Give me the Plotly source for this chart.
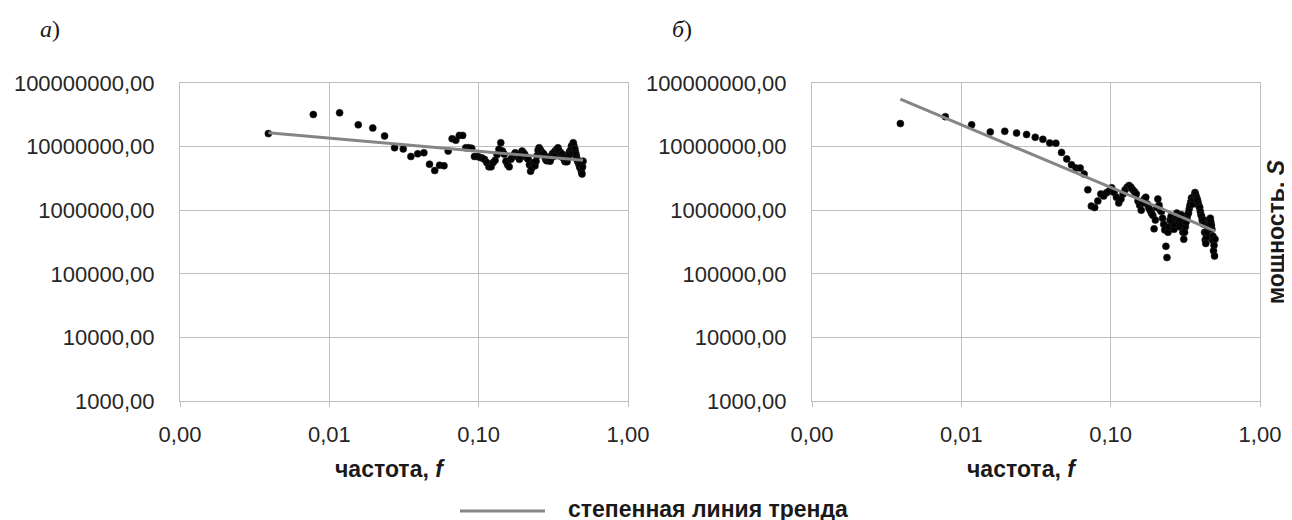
import numpy as np
import plotly.graph_objects as go

# ---- data ----
N = 256
k = list(range(1, 129))
freq = [i / N for i in k]

# panel a) power, units of 1e6
power_a_m = [
    16, 32, 34, 22, 19.6, 14.7, 9.6, 9.2, 7.0, 7.7,
    8.0, 5.3, 4.2, 5.1, 5.0, 8.5, 13.3, 12.6, 15, 15,
    9.6, 9.6, 9.4, 7.0, 7.0, 6.8, 6.6, 6.3, 5.6, 4.8,
    4.8, 5.6, 6.1, 7.5, 9.1, 11.5, 8.5, 7.6, 5.9, 5.2,
    4.8, 6.3, 6.8, 7.4, 8.0, 7.2, 7.6, 6.3, 7.0, 8.5,
    8.0, 7.6, 7.0, 6.6, 6.3, 5.2, 4.1, 4.6, 5.4, 5.6,
    5.0, 5.9, 7.2, 8.8, 9.6, 9.0, 8.5, 8.0, 7.8, 7.6,
    7.0, 6.3, 6.0, 6.4, 6.8, 6.2, 5.9, 6.5, 7.2, 7.8,
    7.0, 7.9, 8.5, 7.4, 8.8, 9.2, 9.6, 8.6, 7.4, 8.2,
    7.6, 6.9, 7.6, 6.9, 6.5, 6.2, 5.8, 6.0, 6.4, 5.8,
    6.6, 7.2, 7.8, 8.4, 7.6, 8.9, 10.2, 9.0, 8.0, 11.5,
    10.5, 9.4, 9.0, 8.0, 7.4, 6.7, 6.2, 5.8, 5.9, 5.4,
    5.0, 4.7, 5.2, 4.4, 4.0, 3.7, 4.8, 5.9,
]
# panel б) power, units of 1e5
power_b_h = [
    230, 296, 220, 170, 174, 163, 155, 140, 130, 114,
    113, 81, 64, 52, 46, 46, 37, 21, 11.6, 11,
    14, 18, 16.7, 18.8, 20, 22.5, 19, 16, 13, 15,
    18, 21, 23, 24.5, 23, 21, 19.5, 18, 14, 12,
    10, 13, 15, 16, 12.5, 11, 10, 9, 8.3, 5.1,
    7, 11, 15, 12, 10, 9.5, 7.5, 6, 4.9, 2.7,
    1.8, 4.5, 5.5, 7, 8, 6.5, 5.5, 5, 6, 7.5,
    9, 8, 6.5, 5.5, 7, 8.5, 6, 4.5, 3.5, 4.5,
    5.5, 6.5, 7.5, 8.5, 9.1, 10.5, 12, 13.5, 15.6, 14,
    12.5, 15, 17, 19, 17.5, 16, 15, 14, 12.5, 11.5,
    11, 9.5, 8.5, 8, 7, 6.2, 7, 6, 4.5, 3.4,
    3.0, 3.8, 4.5, 5.5, 6.5, 7, 6, 6.8, 7.5, 6.5,
    5.8, 5, 3.4, 3.9, 2.3, 2.8, 1.9, 3.5,
]
power_a = [v * 1e6 for v in power_a_m]
power_b = [v * 1e5 for v in power_b_h]

y_tickvals = [1e3, 1e4, 1e5, 1e6, 1e7, 1e8]
y_ticktext = ["1000,00", "10000,00", "100000,00", "1000000,00", "10000000,00", "100000000,00"]
x_tickvals = [0.001, 0.01, 0.1, 1]
x_ticktext = ["0,00", "0,01", "0,10", "1,00"]


def power_trend(x, y):
    b, a = np.polyfit(np.log10(x), np.log10(y), 1)
    xs = np.array(x)
    return list(10 ** a * xs ** b)


W, H = 1292, 520
OFF = 8  # default page body margin
fig = go.Figure()

GRID = "#bfbfbf"
FONT = "Liberation Sans, Arial, sans-serif"

for pw, xa, ya in [(power_a, "x", "y"), (power_b, "x2", "y2")]:
    fig.add_trace(go.Scatter(
        x=freq, y=pw, mode="markers", xaxis=xa, yaxis=ya,
        marker=dict(size=7, color="#000000", line=dict(width=0.6, color="#222222")),
        showlegend=False,
    ))
    fig.add_trace(go.Scatter(
        x=freq, y=power_trend(freq, pw), mode="lines", xaxis=xa, yaxis=ya,
        line=dict(color="#858585", width=3),
        name="степенная линия тренда", showlegend=False,
    ))


def px_x(p):
    return (p - OFF) / W


def px_y(p):
    return 1 - (p - OFF) / H


common_x = dict(type="log", range=[-3, 0], tickvals=x_tickvals, ticktext=x_ticktext,
                showgrid=True, gridcolor=GRID, gridwidth=1, showline=True, mirror=True,
                linecolor=GRID, linewidth=1, ticks="outside", ticklen=5, tickcolor=GRID,
                tickfont=dict(family=FONT, size=22, color="#262626"), zeroline=False,
                ticklabelstandoff=9, automargin=False)
common_y = dict(type="log", range=[3, 8], tickvals=y_tickvals, ticktext=y_ticktext,
                showgrid=True, gridcolor=GRID, gridwidth=1, showline=True, mirror=True,
                linecolor=GRID, linewidth=1, ticks="",
                tickfont=dict(family=FONT, size=22, color="#262626"), zeroline=False,
                ticklabelstandoff=20, automargin=False)

ytop, ybot = 83, 401
fig.update_layout(
    width=W, height=H,
    margin=dict(l=0, r=0, t=0, b=0, pad=0, autoexpand=False),
    paper_bgcolor="white", plot_bgcolor="white",
    showlegend=False,
    xaxis=dict(domain=[px_x(180), px_x(628)], anchor="y", **common_x),
    yaxis=dict(domain=[px_y(ybot), px_y(ytop)], anchor="x", **common_y),
    xaxis2=dict(domain=[px_x(812), px_x(1260)], anchor="y2", **common_x),
    yaxis2=dict(domain=[px_y(ybot), px_y(ytop)], anchor="x2", **common_y),
)

bold = dict(family=FONT, size=23, color="#1a1a1a")
serif = dict(family="Liberation Serif, Times New Roman, serif", size=24, color="#1a1a1a")
annotations = [
    dict(text="<b>частота, <i>f</i></b>", x=px_x(390), y=px_y(469), xref="paper", yref="paper",
         showarrow=False, font=bold, xanchor="center", yanchor="middle"),
    dict(text="<b>частота, <i>f</i></b>", x=px_x(1022), y=px_y(469), xref="paper", yref="paper",
         showarrow=False, font=bold, xanchor="center", yanchor="middle"),
    dict(text="<b>мощность, <i>S</i></b>", x=px_x(1276), y=px_y(232), xref="paper", yref="paper",
         showarrow=False, font=bold, textangle=-90, xanchor="center", yanchor="middle"),
    dict(text="<i>а</i>)", x=px_x(50), y=px_y(29), xref="paper", yref="paper",
         showarrow=False, font=serif, xanchor="center", yanchor="middle"),
    dict(text="<i>б</i>)", x=px_x(682), y=px_y(29), xref="paper", yref="paper",
         showarrow=False, font=serif, xanchor="center", yanchor="middle"),
    dict(text="<b>степенная линия тренда</b>", x=px_x(566), y=px_y(509), xref="paper", yref="paper",
         showarrow=False, font=bold, xanchor="left", yanchor="middle"),
]
fig.update_layout(annotations=annotations)
fig.add_shape(type="line", xref="paper", yref="paper", x0=px_x(460), x1=px_x(545),
              y0=px_y(511), y1=px_y(511), line=dict(color="#858585", width=3))

fig.write_html("out.html")
